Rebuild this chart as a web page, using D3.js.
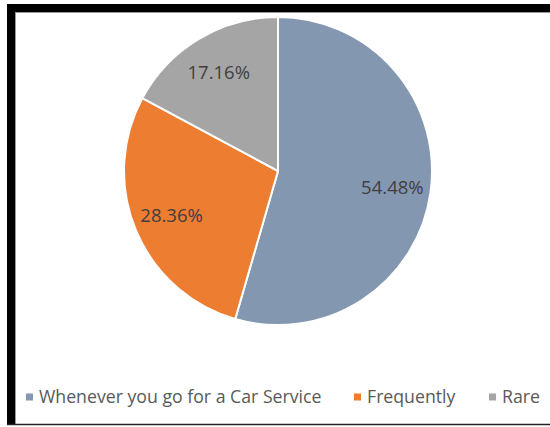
<!DOCTYPE html>
<html>
<head>
<meta charset="utf-8">
<script src="https://cdn.jsdelivr.net/npm/d3@7"></script>
<style>
  html, body { margin: 0; padding: 0; background: #fff; }
  svg { display: block; }
</style>
</head>
<body>
<svg id="chart" width="550" height="427"></svg>
<script>
// Share of respondents by how often they do it
const categories = ["Whenever you go for a Car Service", "Frequently", "Rare"];
const shares = [54.48, 28.36, 17.16];
const colors = ["#8497B0", "#ED7D31", "#A5A5A5"];

const svg = d3.select("#chart");
const W = 550, H = 427;
const font = "'Open Sans', 'Liberation Sans', sans-serif";

// frame: heavy black top and left edges, thin bottom rule
svg.append("rect").attr("x", 0).attr("y", 0).attr("width", W).attr("height", H).attr("fill", "#fff");
svg.append("rect").attr("x", 7).attr("y", 4).attr("width", W - 7).attr("height", 8).attr("fill", "#000");
svg.append("rect").attr("x", 7).attr("y", 4).attr("width", 8).attr("height", 421).attr("fill", "#000");
svg.append("line").attr("x1", 15).attr("x2", W).attr("y1", 12.5).attr("y2", 12.5)
  .attr("stroke", "#9a9a9a").attr("stroke-width", 1);
svg.append("line").attr("x1", 15.5).attr("x2", 15.5).attr("y1", 12).attr("y2", 424)
  .attr("stroke", "#9a9a9a").attr("stroke-width", 1);
svg.append("line").attr("x1", 7).attr("x2", W).attr("y1", 424.5).attr("y2", 424.5)
  .attr("stroke", "#222").attr("stroke-width", 1.5);

// pie
const cx = 278, cy = 171, R = 154;
const data = categories.map((c, i) => ({ name: c, value: shares[i], color: colors[i] }));
const pie = d3.pie().value(d => d.value).sort(null);
const arcs = pie(data);
const arc = d3.arc().innerRadius(0).outerRadius(R);
const labelArc = d3.arc().innerRadius(R * 0.75).outerRadius(R * 0.75);

const g = svg.append("g").attr("transform", `translate(${cx},${cy})`);
g.selectAll("path.slice").data(arcs).join("path")
  .attr("class", "slice")
  .attr("d", arc)
  .attr("fill", d => d.data.color)
  .attr("stroke", "#fff")
  .attr("stroke-width", 2)
  .attr("stroke-linejoin", "round");

g.selectAll("text.lbl").data(arcs).join("text")
  .attr("class", "lbl")
  .attr("transform", d => { const [x, y] = labelArc.centroid(d); return `translate(${x},${y})`; })
  .attr("text-anchor", "middle")
  .attr("dy", "0.36em")
  .attr("font-family", font)
  .attr("font-size", 18.5)
  .attr("fill", "#404040")
  .text(d => d.data.value.toFixed(2) + "%");

// legend
const legendX = [26, 354, 489];
const lg = svg.append("g");
const items = lg.selectAll("g").data(data).join("g")
  .attr("transform", (d, i) => `translate(${legendX[i]},397)`);
items.append("rect").attr("x", 0).attr("y", -3.5).attr("width", 7).attr("height", 7)
  .attr("fill", d => d.color);
items.append("text").attr("x", 13).attr("y", 0).attr("dy", "0.36em")
  .attr("font-family", font).attr("font-size", 17.7).attr("fill", "#595959")
  .text(d => d.name);
</script>
</body>
</html>
